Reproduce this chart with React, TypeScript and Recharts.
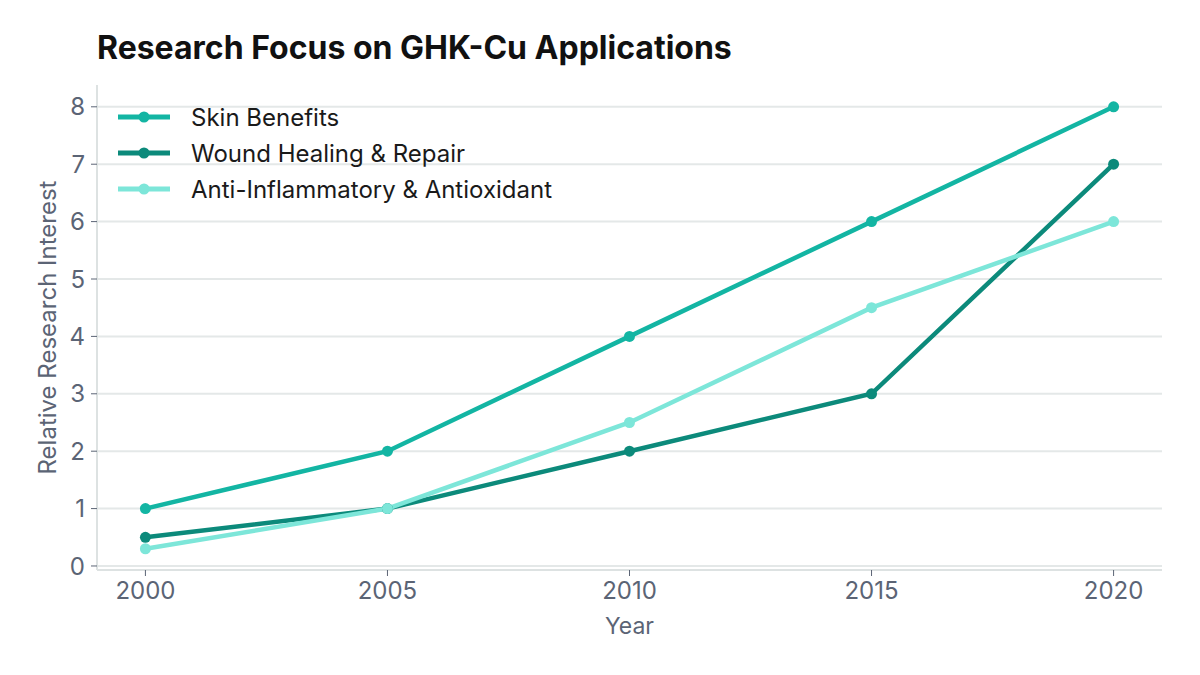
import React from "react";
import { LineChart, Line, XAxis, YAxis, CartesianGrid } from "recharts";

const years = [2000, 2005, 2010, 2015, 2020];
const skinBenefits = [1, 2, 4, 6, 8];
const woundHealing = [0.5, 1, 2, 3, 7];
const antiInflammatory = [0.3, 1, 2.5, 4.5, 6];
const yTicks = [0, 1, 2, 3, 4, 5, 6, 7, 8];

const seriesNames = ["Skin Benefits", "Wound Healing & Repair", "Anti-Inflammatory & Antioxidant"];
const seriesColors = ["#13b5a3", "#0c8a7b", "#7de6d9"];

const data = years.map((y, i) => ({
  year: y,
  skin: skinBenefits[i],
  wound: woundHealing[i],
  anti: antiInflammatory[i],
}));

const FONT = "Inter, 'Noto Sans', sans-serif";
const TICK_COLOR = "#5b6475";

export default function App() {
  return (
    <div style={{ position: "absolute", left: 0, top: 0, width: 1200, height: 675, background: "#fff" }}>
      <LineChart
        width={1200}
        height={675}
        data={data}
        margin={{ top: 85, right: 38, bottom: 35, left: 0 }}
        style={{ fontFamily: FONT }}
      >
        <CartesianGrid vertical={false} horizontalValues={yTicks} stroke="#e4e8e8" strokeWidth={2} />
        <XAxis
          dataKey="year"
          type="number"
          domain={[1999, 2021]}
          ticks={years}
          height={70}
          stroke="#dde2e2"
          strokeWidth={2}
          tickLine={{ stroke: TICK_COLOR, strokeWidth: 1 }}
          tickSize={6}
          tickMargin={6}
          tick={{ fill: TICK_COLOR, fontSize: 24 }}
          label={{ value: "Year", position: "insideBottom", offset: 6, fill: TICK_COLOR, fontSize: 23 }}
        />
        <YAxis
          type="number"
          domain={[-0.07, 8.38]}
          ticks={yTicks}
          width={97}
          stroke="#dde2e2"
          strokeWidth={2}
          tickLine={{ stroke: TICK_COLOR, strokeWidth: 1 }}
          tickSize={6}
          tickMargin={6}
          tick={{ fill: TICK_COLOR, fontSize: 24 }}
          label={{ value: "Relative Research Interest", angle: -90, position: "center", fill: TICK_COLOR, fontSize: 24, dx: -1 }}
        />
        <Line dataKey="skin" name={seriesNames[0]} stroke={seriesColors[0]} strokeWidth={4.5} dot={{ r: 5.5, fill: seriesColors[0], stroke: "none" }} isAnimationActive={false} />
        <Line dataKey="wound" name={seriesNames[1]} stroke={seriesColors[1]} strokeWidth={4.5} dot={{ r: 5.5, fill: seriesColors[1], stroke: "none" }} isAnimationActive={false} />
        <Line dataKey="anti" name={seriesNames[2]} stroke={seriesColors[2]} strokeWidth={4.5} dot={{ r: 5.5, fill: seriesColors[2], stroke: "none" }} isAnimationActive={false} />
      </LineChart>
      <div
        style={{
          position: "absolute",
          left: 97,
          top: 28,
          fontFamily: FONT,
          fontWeight: 700,
          fontSize: 32,
          color: "#111",
          whiteSpace: "nowrap",
        }}
      >
        Research Focus on GHK-Cu Applications
      </div>
      <div style={{ position: "absolute", left: 116, top: 99, fontFamily: FONT }}>
        {seriesNames.map((name, i) => (
          <div key={name} style={{ display: "flex", alignItems: "center", height: 36 }}>
            <svg width={56} height={16} style={{ marginRight: 19 }}>
              <line x1={2} y1={8} x2={54} y2={8} stroke={seriesColors[i]} strokeWidth={5} />
              <circle cx={28} cy={8} r={5.5} fill={seriesColors[i]} />
            </svg>
            <span style={{ fontSize: 24, color: "#1a1a1a", whiteSpace: "nowrap" }}>{name}</span>
          </div>
        ))}
      </div>
    </div>
  );
}
